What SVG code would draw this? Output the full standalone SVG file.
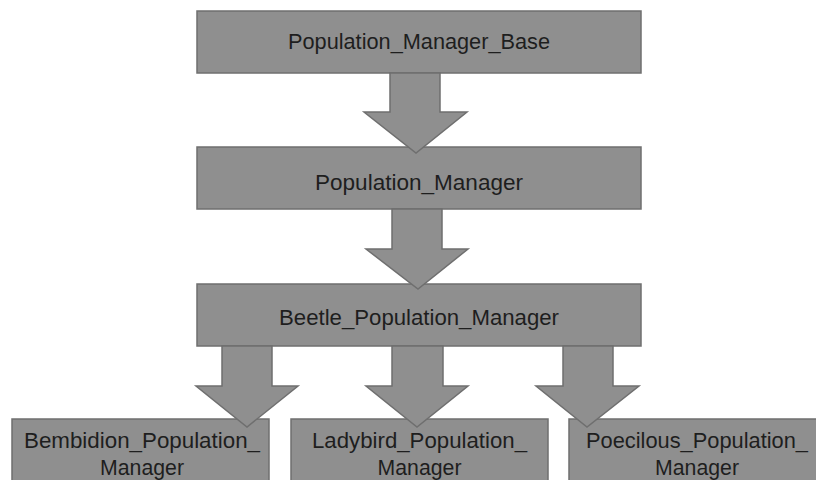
<svg xmlns="http://www.w3.org/2000/svg" width="816" height="480" viewBox="0 0 816 480">
<style>
.box{fill:#8f8f8f;stroke:#6f6f6f;stroke-width:1.5}
.arr{fill:#8f8f8f;stroke:#6f6f6f;stroke-width:1.5;stroke-linejoin:miter}
text{font-family:"Liberation Sans",Arial,sans-serif;font-size:22px;fill:#1e1e1e;text-anchor:middle}
</style>
<rect width="816" height="480" fill="#ffffff"/>
<g id="node-population-manager-base">
<rect class="box" x="197" y="11" width="444" height="62"/>
<text x="419" y="49" textLength="262" lengthAdjust="spacingAndGlyphs">Population_Manager_Base</text>
</g>
<g id="node-population-manager">
<rect class="box" x="197" y="147" width="444" height="62"/>
<text x="419" y="190" textLength="208" lengthAdjust="spacingAndGlyphs">Population_Manager</text>
</g>
<g id="node-beetle-population-manager">
<rect class="box" x="197" y="284" width="444" height="62"/>
<text x="419" y="325" textLength="280" lengthAdjust="spacingAndGlyphs">Beetle_Population_Manager</text>
</g>
<g id="node-bembidion">
<rect class="box" x="12" y="419" width="257" height="80"/>
<text x="142" y="448" textLength="236" lengthAdjust="spacingAndGlyphs">Bembidion_Population_</text>
<text x="142" y="475" textLength="84" lengthAdjust="spacingAndGlyphs">Manager</text>
</g>
<g id="node-ladybird">
<rect class="box" x="291" y="419" width="257" height="80"/>
<text x="419.5" y="448" textLength="215" lengthAdjust="spacingAndGlyphs">Ladybird_Population_</text>
<text x="419.5" y="475" textLength="84" lengthAdjust="spacingAndGlyphs">Manager</text>
</g>
<g id="node-poecilous">
<rect class="box" x="569" y="419" width="257" height="80"/>
<text x="697" y="448" textLength="222" lengthAdjust="spacingAndGlyphs">Poecilous_Population_</text>
<text x="697" y="475" textLength="84" lengthAdjust="spacingAndGlyphs">Manager</text>
</g>
<g id="connectors">
<polygon class="arr" points="390,73 440,73 440,112 467,112 416,153 364,112 390,112"/>
<polygon class="arr" points="392,209 442,209 442,249 468,249 418,289 366,249 392,249"/>
<polygon class="arr" points="222,346 272,346 272,386 298,386 247,427 196,386 222,386"/>
<polygon class="arr" points="392,346 443,346 443,386 468,386 417,427 366,386 392,386"/>
<polygon class="arr" points="563,346 613,346 613,386 639,386 587,427 536,386 563,386"/>
</g>
</svg>
